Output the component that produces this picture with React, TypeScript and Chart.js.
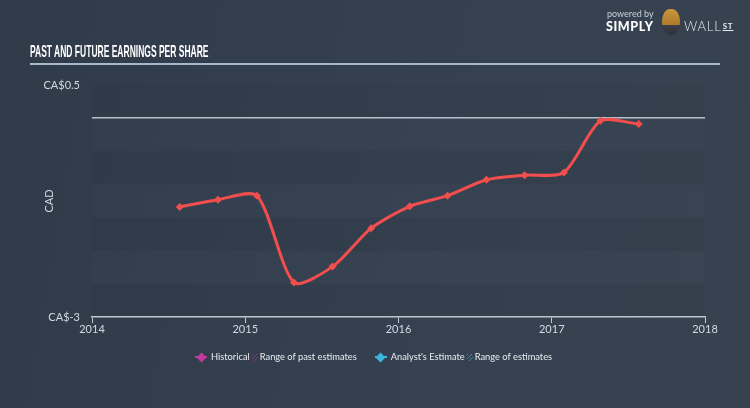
import React, { useEffect, useRef } from 'react';
import { Chart, registerables } from 'chart.js';

Chart.register(...registerables);

// ---- data ----
const reportDates = [
  '2014-07-29', '2014-10-28', '2015-01-29', '2015-04-27', '2015-07-28',
  '2015-10-28', '2016-01-28', '2016-04-27', '2016-07-29', '2016-10-28',
  '2017-01-30', '2017-04-27', '2017-07-27',
];
const epsValues = [-1.34, -1.23, -1.17, -2.48, -2.24, -1.66, -1.33, -1.17, -0.93, -0.86, -0.82, -0.04, -0.09];
const xTickYears = [2014, 2015, 2016, 2017, 2018];
const yTickValues = [0.5, 0, -3];
const yTickTexts = ['CA$0.5', '', 'CA$-3'];
const yMin = -3;
const yMax = 0.5;
const legendLabels = ['Historical', 'Range of past estimates', "Analyst's Estimate", 'Range of estimates'];

function toYear(d: string): number {
  const [y, m, dd] = d.split('-').map(Number);
  const start = Date.UTC(y, 0, 1);
  const end = Date.UTC(y + 1, 0, 1);
  return y + (Date.UTC(y, m - 1, dd) - start) / (end - start);
}

const bandPlugin = {
  id: 'bands',
  beforeDatasetsDraw(chart: any) {
    const { ctx, chartArea, scales } = chart;
    const y = scales.y;
    const step = 0.5;
    let i = 0;
    ctx.save();
    for (let v = yMax; v > yMin + 1e-9; v -= step, i++) {
      const top = y.getPixelForValue(v);
      const bot = y.getPixelForValue(v - step);
      ctx.fillStyle = i % 2 === 0 ? 'rgba(0,0,0,0.028)' : 'rgba(255,255,255,0.012)';
      ctx.fillRect(chartArea.left, top, chartArea.right - chartArea.left, bot - top);
    }
    ctx.restore();
  },
};

export default function App() {
  const canvasRef = useRef<HTMLCanvasElement | null>(null);

  useEffect(() => {
    if (!canvasRef.current) return;
    Chart.defaults.font.family = 'Lato, "Open Sans", sans-serif';
    const chart = new Chart(canvasRef.current, {
      type: 'line',
      data: {
        datasets: [
          {
            label: 'EPS',
            data: reportDates.map((d, i) => ({ x: toYear(d), y: epsValues[i] })),
            borderColor: '#f24e4e',
            backgroundColor: '#f24e4e',
            borderWidth: 3,
            pointStyle: 'rectRot',
            pointRadius: 4,
            pointBorderWidth: 0,
            tension: 0.25,
          },
        ],
      },
      options: {
        animation: false,
        responsive: false,
        maintainAspectRatio: false,
        layout: { padding: { left: 0, top: 85, right: 45, bottom: 0 } },
        plugins: { legend: { display: false }, tooltip: { enabled: false } },
        scales: {
          x: {
            type: 'linear',
            min: 2014,
            max: 2018,
            afterBuildTicks: (s: any) => {
              s.ticks = xTickYears.map((v) => ({ value: v }));
            },
            afterFit: (s: any) => {
              s.height = 91;
            },
            ticks: {
              color: '#d3d9df',
              font: { size: 11 },
              padding: 0,
              maxRotation: 0,
              callback: (v: any) => String(v),
            },
            grid: {
              drawOnChartArea: false,
              drawTicks: true,
              tickLength: 6,
              tickColor: '#c3cad2',
              tickWidth: 1,
            },
            border: { display: true, color: '#c3cad2', width: 1.5 },
          },
          y: {
            type: 'linear',
            min: yMin,
            max: yMax,
            afterBuildTicks: (s: any) => {
              s.ticks = yTickValues.map((v) => ({ value: v }));
            },
            afterFit: (s: any) => {
              s.width = 92;
            },
            ticks: {
              color: '#d3d9df',
              font: { size: 11 },
              padding: 12,
              callback: (v: any) => {
                const i = yTickValues.indexOf(Number(v));
                return i >= 0 ? yTickTexts[i] : '';
              },
            },
            grid: {
              drawTicks: false,
              color: (c: any) => (c.tick && c.tick.value === 0 ? '#b9c5d0' : 'rgba(0,0,0,0)'),
              lineWidth: 1.5,
            },
            border: { display: false },
            title: {
              display: true,
              text: 'CAD',
              color: '#d3d9df',
              font: { size: 11 },
              padding: { top: 43, bottom: 0 },
            },
          },
        },
      },
      plugins: [bandPlugin],
    } as any);
    return () => chart.destroy();
  }, []);

  const diamond = (color: string) => (
    <span style={{ position: 'relative', display: 'inline-block', width: 12, height: 10, marginRight: 4 }}>
      <span style={{ position: 'absolute', left: 0, top: 4, width: 12, height: 2, background: color }} />
      <span style={{ position: 'absolute', left: 2.5, top: 1.5, width: 7, height: 7, background: color, transform: 'rotate(45deg)' }} />
    </span>
  );
  const hatch = (color: string) => (
    <span
      style={{
        display: 'inline-block',
        width: 6,
        height: 7,
        margin: '0 2px 0 2px',
        background: `repeating-linear-gradient(135deg, ${color} 0 1px, transparent 1px 3px)`,
      }}
    />
  );

  return (
    <div
      style={{
        position: 'absolute',
        left: 0,
        top: 0,
        width: 750,
        height: 408,
        overflow: 'hidden',
        background: 'linear-gradient(100deg, #303b4a 0%, #354150 60%, #36424f 100%)',
        fontFamily: 'Lato, "Open Sans", sans-serif',
      }}
    >
      <canvas ref={canvasRef} width={750} height={408} style={{ position: 'absolute', left: 0, top: 0 }} />

      {/* title */}
      <div
        style={{
          position: 'absolute',
          left: 30,
          top: 42,
          fontFamily: '"Liberation Sans Narrow", "Liberation Sans", sans-serif',
          fontWeight: 'bold',
          fontSize: 17,
          color: '#ffffff',
          whiteSpace: 'nowrap',
          transform: 'scaleX(0.5)',
          transformOrigin: 'left top',
          lineHeight: '19px',
        }}
      >
        PAST AND FUTURE EARNINGS PER SHARE
      </div>
      <div style={{ position: 'absolute', left: 30, top: 63, width: 690, height: 2, background: '#a7b8c9' }} />

      {/* logo */}
      <div style={{ position: 'absolute', left: 607, top: 8, fontSize: 9, color: '#c9d0d8', lineHeight: '11px' }}>powered by</div>
      <div
        style={{
          position: 'absolute',
          left: 606,
          top: 19,
          fontSize: 12.5,
          fontWeight: 900,
          color: '#ffffff',
          letterSpacing: 0.6,
          lineHeight: '15px',
        }}
      >
        SIMPLY
      </div>
      <div
        style={{
          position: 'absolute',
          left: 662,
          top: 9,
          width: 18,
          height: 26,
          borderRadius: '45% 45% 50% 50%',
          background: 'linear-gradient(#c9953a 0%, #b07a2c 60%, #3d3f4a 61%, #2d3038 100%)',
        }}
      />
      <div
        style={{
          position: 'absolute',
          left: 684,
          top: 19,
          fontSize: 13,
          fontWeight: 300,
          color: '#e6eaee',
          letterSpacing: 0.8,
          lineHeight: '15px',
        }}
      >
        WALL
        <span style={{ fontSize: 8, fontWeight: 'bold', textDecoration: 'underline', marginLeft: 1, verticalAlign: 2 }}>ST</span>
      </div>

      {/* legend */}
      <div
        style={{
          position: 'absolute',
          left: 195,
          top: 350,
          display: 'flex',
          alignItems: 'center',
          fontSize: 9.3,
          color: '#e8ecf0',
          whiteSpace: 'nowrap',
          lineHeight: '14px',
        }}
      >
        {diamond('#c23a9e')}
        <span>{legendLabels[0]}</span>
        {hatch('#8a3a78')}
        <span>{legendLabels[1]}</span>
        <span style={{ display: 'inline-block', width: 18 }} />
        {diamond('#3bb6dd')}
        <span>{legendLabels[2]}</span>
        {hatch('#3a8fb0')}
        <span>{legendLabels[3]}</span>
      </div>
    </div>
  );
}
